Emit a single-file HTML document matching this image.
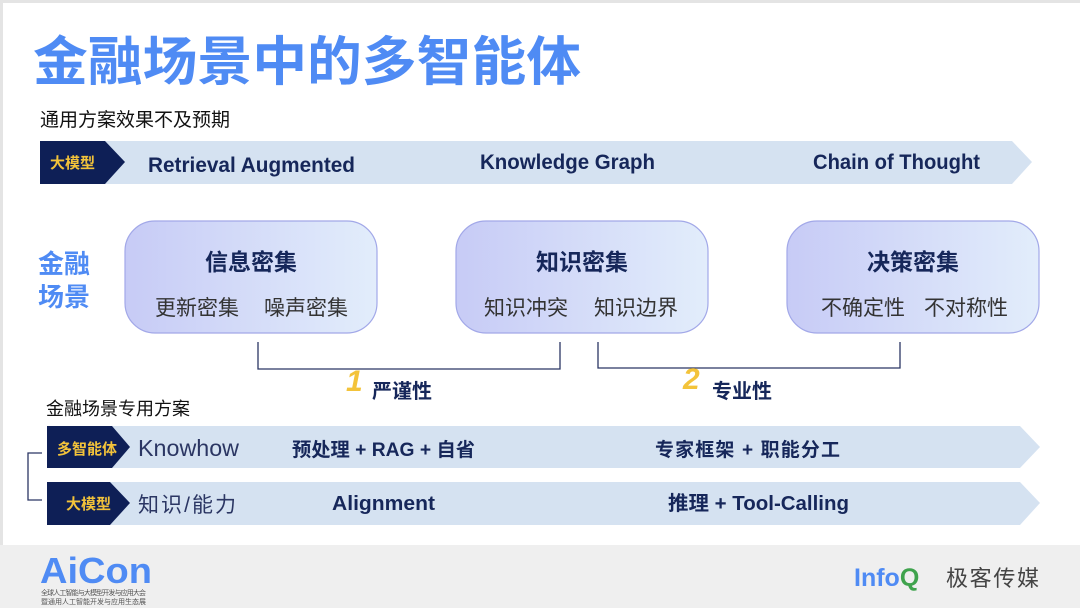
<!DOCTYPE html>
<html><head><meta charset="utf-8"><style>
html,body{margin:0;padding:0;background:#fff;}
svg{display:block;}
text{font-family:"Liberation Sans","Noto Sans CJK SC",sans-serif;}
</style></head><body>
<svg width="1080" height="608" viewBox="0 0 1080 608" xmlns="http://www.w3.org/2000/svg">
<defs>
<linearGradient id="g" x1="0" y1="0" x2="1" y2="0">
<stop offset="0" stop-color="#c7cbf6"/><stop offset="1" stop-color="#e2edfb"/>
</linearGradient>
</defs>
<rect x="0" y="0" width="1080" height="608" fill="#fff"/>
<rect x="0" y="0" width="1080" height="3" fill="#e4e4e4"/>
<rect x="0" y="0" width="3" height="545" fill="#e4e4e4"/>
<text x="33" y="80" font-size="53" font-weight="bold" fill="#4f8bf4" textLength="548" lengthAdjust="spacingAndGlyphs">金融场景中的多智能体</text>
<text x="40" y="126" font-size="19" fill="#111">通用方案效果不及预期</text>

<!-- banner 1 -->
<polygon points="40,141 1012,141 1032,162 1012,184 40,184" fill="#d5e2f1"/>
<polygon points="40,141 105,141 125,162 105,184 40,184" fill="#0e1f56"/>
<text x="50" y="168" font-size="15" font-weight="bold" fill="#f3c33a">大模型</text>
<text x="148" y="172" font-size="21" font-weight="bold" fill="#16275a" textLength="207" lengthAdjust="spacingAndGlyphs">Retrieval Augmented</text>
<text x="480" y="169" font-size="21" font-weight="bold" fill="#16275a" textLength="175" lengthAdjust="spacingAndGlyphs">Knowledge Graph</text>
<text x="813" y="169" font-size="21" font-weight="bold" fill="#16275a" textLength="167" lengthAdjust="spacingAndGlyphs">Chain of Thought</text>

<!-- 金融场景 -->
<text x="38" y="273" font-size="26" font-weight="bold" fill="#4f8bf4">金融</text>
<text x="38" y="306" font-size="26" font-weight="bold" fill="#4f8bf4">场景</text>

<!-- boxes -->
<rect x="125" y="221" width="252" height="112" rx="30" fill="url(#g)" stroke="#a2a8e8" stroke-width="1.2"/>
<text x="251" y="270" font-size="23" font-weight="bold" fill="#16275a" text-anchor="middle">信息密集</text>
<text x="155" y="315" font-size="21" fill="#333">更新密集</text>
<text x="264" y="315" font-size="21" fill="#333">噪声密集</text>
<rect x="456" y="221" width="252" height="112" rx="30" fill="url(#g)" stroke="#a2a8e8" stroke-width="1.2"/>
<text x="582" y="270" font-size="23" font-weight="bold" fill="#16275a" text-anchor="middle">知识密集</text>
<text x="484" y="315" font-size="21" fill="#333">知识冲突</text>
<text x="594" y="315" font-size="21" fill="#333">知识边界</text>
<rect x="787" y="221" width="252" height="112" rx="30" fill="url(#g)" stroke="#a2a8e8" stroke-width="1.2"/>
<text x="913" y="270" font-size="23" font-weight="bold" fill="#16275a" text-anchor="middle">决策密集</text>
<text x="821" y="315" font-size="21" fill="#333">不确定性</text>
<text x="924" y="315" font-size="21" fill="#333">不对称性</text>

<!-- brackets -->
<polyline points="258,342 258,369 560,369 560,342" fill="none" stroke="#2b3663" stroke-width="1.3"/>
<polyline points="598,342 598,368 900,368 900,342" fill="none" stroke="#2b3663" stroke-width="1.3"/>
<text x="346" y="391" font-size="30" font-weight="bold" font-style="italic" fill="#f3c33a">1</text>
<text x="372" y="398" font-size="20" font-weight="bold" fill="#16275a">严谨性</text>
<text x="683" y="389" font-size="30" font-weight="bold" font-style="italic" fill="#f3c33a">2</text>
<text x="712" y="398" font-size="20" font-weight="bold" fill="#16275a">专业性</text>

<text x="46" y="415" font-size="18" fill="#111">金融场景专用方案</text>

<!-- left bracket -->
<polyline points="42,453 28,453 28,500 42,500" fill="none" stroke="#2b3663" stroke-width="1.3"/>

<!-- banner 2 -->
<polygon points="47,426 1020,426 1040,447 1020,468 47,468" fill="#d5e2f1"/>
<polygon points="47,426 112,426 130,447 112,468 47,468" fill="#0e1f56"/>
<text x="57" y="454" font-size="15" font-weight="bold" fill="#f3c33a">多智能体</text>
<text x="138" y="456" font-size="23" fill="#2b3663" textLength="101" lengthAdjust="spacingAndGlyphs">Knowhow</text>
<text x="292" y="456" font-size="19" font-weight="bold" fill="#16275a" textLength="183" lengthAdjust="spacingAndGlyphs">预处理 + RAG + 自省</text>
<text x="655" y="456" font-size="19" font-weight="bold" fill="#16275a" textLength="185">专家框架 +  职能分工</text>

<!-- banner 3 -->
<polygon points="47,482 1020,482 1040,503 1020,525 47,525" fill="#d5e2f1"/>
<polygon points="47,482 110,482 130,503 110,525 47,525" fill="#0e1f56"/>
<text x="66" y="509" font-size="15" font-weight="bold" fill="#f3c33a">大模型</text>
<text x="138" y="512" font-size="21" fill="#2b3663" textLength="98">知识/能力</text>
<text x="332" y="510" font-size="20" font-weight="bold" fill="#16275a" textLength="103" lengthAdjust="spacingAndGlyphs">Alignment</text>
<text x="668" y="510" font-size="20" font-weight="bold" fill="#16275a" textLength="181" lengthAdjust="spacingAndGlyphs">推理 + Tool-Calling</text>

<!-- footer -->
<rect x="0" y="545" width="1080" height="63" fill="#efefef"/>
<text x="40" y="583" font-size="36" font-weight="bold" fill="#4f8bf4" textLength="112" lengthAdjust="spacingAndGlyphs">AiCon</text>
<text x="41" y="595" font-size="7" fill="#555" textLength="105">全球人工智能与大模型开发与应用大会</text>
<text x="41" y="604" font-size="7" fill="#555" textLength="105">暨通用人工智能开发与应用生态展</text>
<text x="854" y="586" font-size="25" font-weight="bold" fill="#4f8bf4">Info<tspan fill="#3fa34d">Q</tspan></text>
<text x="946" y="586" font-size="22" fill="#444" textLength="93">极客传媒</text>
</svg>
</body></html>
